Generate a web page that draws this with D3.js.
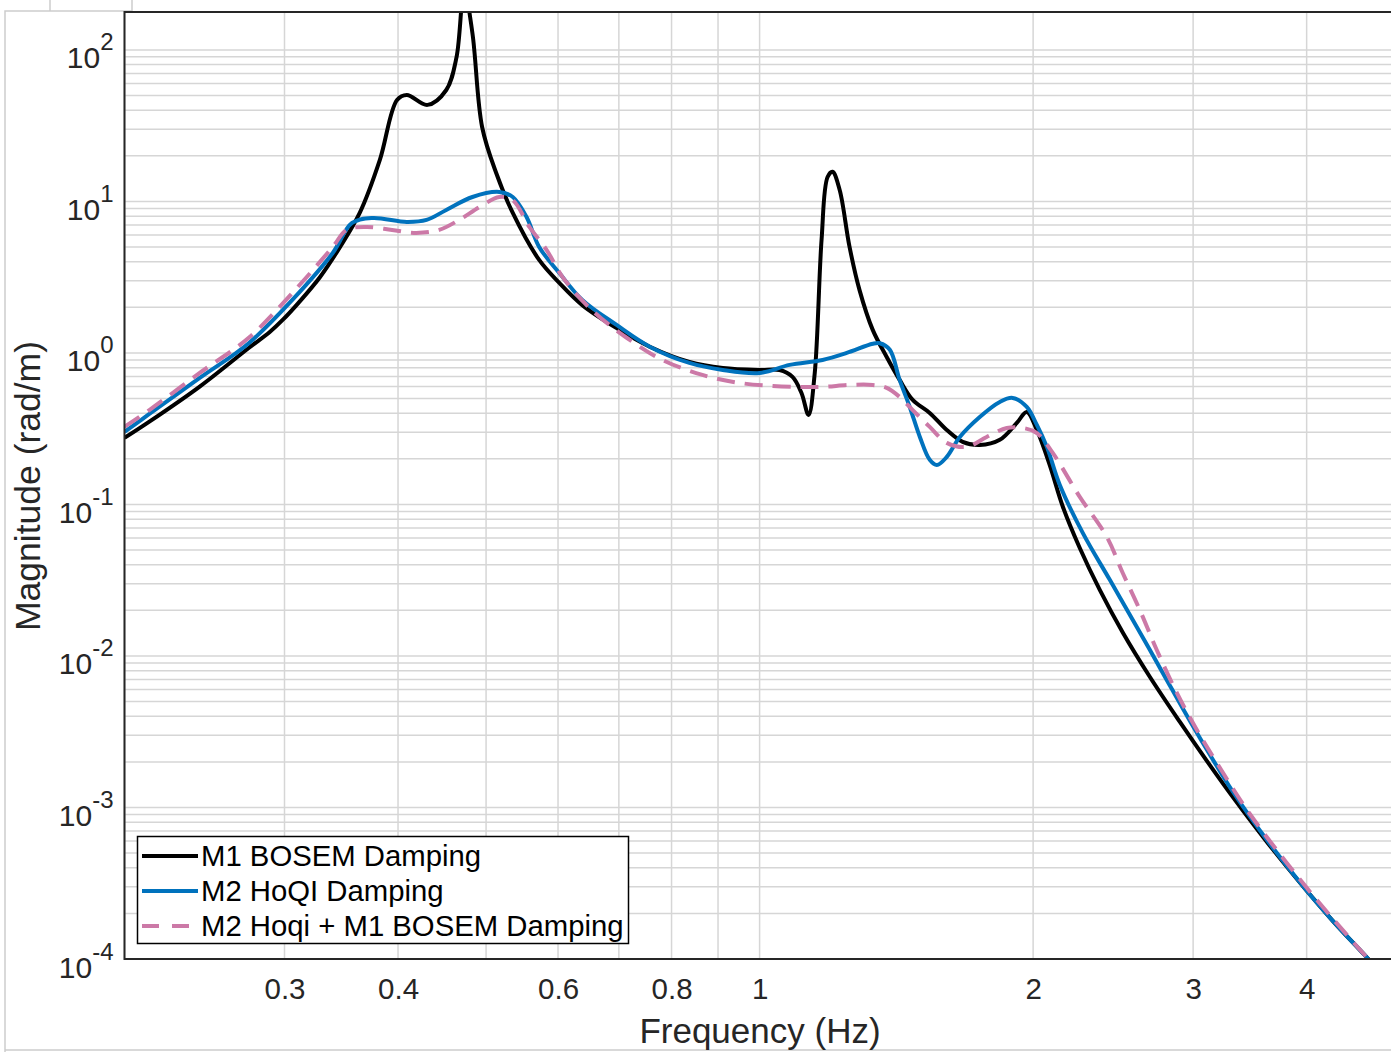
<!DOCTYPE html>
<html>
<head>
<meta charset="utf-8">
<script src="https://cdn.jsdelivr.net/npm/d3@7/dist/d3.min.js"></script>
<style>
  body { margin: 0; background: #fff; }
  text { font-family: "Liberation Sans", Arial, Helvetica, sans-serif; }
</style>
</head>
<body>
<svg id="bode"></svg>
<script>

// frequency (Hz) / magnitude (rad/m)
var m1Freq = [0.2, 0.213, 0.242, 0.274, 0.289, 0.299, 0.311, 0.328, 0.345, 0.363, 0.382, 0.399, 0.409, 0.431, 0.452, 0.464, 0.473, 0.483, 0.495, 0.513, 0.535, 0.572, 0.602, 0.638, 0.696, 0.757, 0.837, 0.911, 1.0, 1.052, 1.087, 1.112, 1.132, 1.15, 1.17, 1.188, 1.203, 1.225, 1.256, 1.288, 1.332, 1.38, 1.426, 1.474, 1.539, 1.607, 1.673, 1.747, 1.838, 1.919, 1.968, 2.019, 2.086, 2.157, 2.251, 2.368, 2.51, 2.689, 2.901, 3.106, 3.318, 3.617, 4.003, 4.276, 4.661, 4.817];
var m1Mag = [0.275, 0.352, 0.6, 1.079, 1.376, 1.664, 2.15, 3.15, 4.96, 8.4, 18.8, 46.8, 50.5, 43.4, 54.4, 90, 250, 129, 31, 15.4, 8.4, 4.11, 2.9, 2.07, 1.46, 1.1, 0.873, 0.796, 0.772, 0.772, 0.695, 0.544, 0.39, 0.738, 5.57, 14.5, 15.7, 11.9, 5.01, 2.61, 1.42, 0.941, 0.664, 0.49, 0.402, 0.31, 0.259, 0.247, 0.267, 0.345, 0.408, 0.31, 0.182, 0.0962, 0.0516, 0.0273, 0.0143, 0.00727, 0.00367, 0.00203, 0.00117, 0.000592, 0.000281, 0.000178, 0.000102, 0.000082];

var hoqiFreq = [0.2, 0.213, 0.242, 0.274, 0.306, 0.339, 0.356, 0.375, 0.409, 0.43, 0.452, 0.483, 0.517, 0.535, 0.554, 0.572, 0.602, 0.638, 0.696, 0.757, 0.837, 0.911, 1.0, 1.079, 1.173, 1.247, 1.332, 1.356, 1.391, 1.426, 1.463, 1.501, 1.539, 1.567, 1.607, 1.661, 1.747, 1.838, 1.899, 1.968, 2.019, 2.071, 2.14, 2.268, 2.429, 2.602, 2.778, 2.976, 3.146, 3.318, 3.617, 4.003, 4.276, 4.661, 4.817];
var hoqiMag = [0.301, 0.396, 0.684, 1.16, 2.24, 4.57, 7.21, 7.78, 7.32, 7.55, 8.79, 10.7, 11.55, 10.7, 7.9, 5.01, 3.37, 2.24, 1.53, 1.1, 0.859, 0.772, 0.738, 0.834, 0.899, 1.0, 1.15, 1.16, 1.05, 0.664, 0.44, 0.279, 0.197, 0.182, 0.206, 0.279, 0.378, 0.475, 0.505, 0.44, 0.335, 0.24, 0.1345, 0.0649, 0.0318, 0.0155, 0.00773, 0.00372, 0.00212, 0.00127, 0.00061, 0.000281, 0.000178, 0.000102, 0.000082];

var bothFreq = [0.2, 0.213, 0.242, 0.274, 0.306, 0.339, 0.351, 0.369, 0.394, 0.419, 0.444, 0.467, 0.492, 0.517, 0.535, 0.558, 0.583, 0.607, 0.65, 0.714, 0.782, 0.865, 0.951, 1.034, 1.107, 1.173, 1.256, 1.332, 1.38, 1.426, 1.474, 1.539, 1.607, 1.69, 1.778, 1.871, 1.948, 2.019, 2.102, 2.251, 2.411, 2.51, 2.621, 2.736, 2.879, 3.029, 3.186, 3.464, 4.003, 4.661, 4.817];
var bothMag = [0.325, 0.42, 0.738, 1.26, 2.49, 5.01, 6.49, 6.79, 6.49, 6.2, 6.49, 7.55, 9.2, 10.7, 10.2, 6.79, 4.78, 3.17, 1.98, 1.26, 0.899, 0.716, 0.634, 0.606, 0.597, 0.597, 0.615, 0.615, 0.588, 0.513, 0.42, 0.325, 0.255, 0.24, 0.279, 0.32, 0.32, 0.296, 0.219, 0.1122, 0.061, 0.0353, 0.0201, 0.01096, 0.0057, 0.00325, 0.00197, 0.000906, 0.000294, 0.000102, 0.000082];

var xTickValues = [0.3, 0.4, 0.6, 0.8, 1, 2, 3, 4];
var xTickLabels = ["0.3", "0.4", "0.6", "0.8", "1", "2", "3", "4"];
var yTickExps = [-4, -3, -2, -1, 0, 1, 2];
var legendLabels = ["M1 BOSEM Damping", "M2 HoQI Damping", "M2 Hoqi + M1 BOSEM Damping"];
var seriesColors = ["#000000", "#0072bd", "#cc79a7"];

// set the dimensions and margins of the graph
var margin = {top: 12, right: 0, bottom: 93, left: 124.5},
    width = 1270.2,
    height = 947;

var svg0 = d3.select("#bode")
    .attr("width", 1391)
    .attr("height", 1052);

// light frame of the screenshot
svg0.append("path")
    .attr("d", "M5,1052V11H132V0M50,0V11M5,1050H1391")
    .attr("fill", "none")
    .attr("stroke", "#cdcdcd")
    .attr("stroke-width", 1.5);

var svg = svg0.append("g")
    .attr("transform", "translate(" + margin.left + "," + margin.top + ")");

var x = d3.scaleLog()
    .domain([0.2, 5])
    .range([0, width]);

var y = d3.scaleLog()
    .domain([1e-4, 178])
    .range([height, 0]);

svg.append("rect")
    .attr("width", width)
    .attr("height", height)
    .attr("fill", "#fff");

// grid
svg.append("g")
    .selectAll("line")
    .data(x.ticks())
    .enter()
    .append("line")
        .attr("x1", function (d) { return x(d); })
        .attr("x2", function (d) { return x(d); })
        .attr("y1", 0)
        .attr("y2", height)
        .attr("stroke", "#d6d6d6")
        .attr("stroke-width", 1.5);

svg.append("g")
    .selectAll("line")
    .data(y.ticks())
    .enter()
    .append("line")
        .attr("y1", function (d) { return y(d); })
        .attr("y2", function (d) { return y(d); })
        .attr("x1", 0)
        .attr("x2", width)
        .attr("stroke", "#d6d6d6")
        .attr("stroke-width", 1.5);

// Add X axis
var xAxis = svg.append("g")
    .attr("transform", "translate(0," + height + ")")
    .call(d3.axisBottom(x)
        .tickValues(xTickValues)
        .tickFormat(function (d, i) { return xTickLabels[i]; })
        .tickSize(0)
        .tickPadding(0));
xAxis.select(".domain").remove();
xAxis.selectAll("text")
    .attr("y", 40)
    .attr("dy", null)
    .attr("font-size", 29.5)
    .attr("fill", "#262626");

// Add Y axis (10^n labels)
var yAxis = svg.append("g")
    .call(d3.axisLeft(y)
        .tickValues(yTickExps.map(function (e) { return Math.pow(10, e); }))
        .tickFormat("")
        .tickSize(0));
yAxis.select(".domain").remove();
yAxis.selectAll(".tick text").each(function (d, i) {
    var t = d3.select(this)
        .attr("x", -11)
        .attr("y", 18)
        .attr("dy", null)
        .attr("text-anchor", "end")
        .attr("fill", "#262626")
        .text(null);
    t.append("tspan").attr("font-size", 30).text("10");
    t.append("tspan").attr("font-size", 24).attr("dy", -18).text(yTickExps[i]);
});

// axis labels
svg0.append("text")
    .attr("x", 760)
    .attr("y", 1043)
    .attr("text-anchor", "middle")
    .attr("font-size", 35)
    .attr("fill", "#262626")
    .text("Frequency (Hz)");

svg0.append("text")
    .attr("transform", "translate(40,486) rotate(-90)")
    .attr("text-anchor", "middle")
    .attr("font-size", 35.5)
    .attr("fill", "#262626")
    .text("Magnitude (rad/m)");

// curves
svg.append("clipPath")
    .attr("id", "plotClip")
    .append("rect")
    .attr("width", width)
    .attr("height", height);

var line = d3.line()
    .x(function (d) { return x(d[0]); })
    .y(function (d) { return y(d[1]); })
    .curve(d3.curveCatmullRom.alpha(0.5));

var series = [
    {data: d3.zip(m1Freq, m1Mag), dash: null},
    {data: d3.zip(hoqiFreq, hoqiMag), dash: null},
    {data: d3.zip(bothFreq, bothMag), dash: "18,10"}
];

var curves = svg.append("g").attr("clip-path", "url(#plotClip)");
series.forEach(function (s, i) {
    curves.append("path")
        .datum(s.data)
        .attr("d", line)
        .attr("fill", "none")
        .attr("stroke", seriesColors[i])
        .attr("stroke-width", 4)
        .attr("stroke-linejoin", "round")
        .attr("stroke-dasharray", s.dash);
});

// box
svg.append("path")
    .attr("d", "M" + width + ",0H0V" + height + "H" + width)
    .attr("fill", "none")
    .attr("stroke", "#262626")
    .attr("stroke-width", 2);

// legend
var legend = svg0.append("g");
legend.append("rect")
    .attr("x", 137.5)
    .attr("y", 836.5)
    .attr("width", 491)
    .attr("height", 107)
    .attr("fill", "#fff")
    .attr("stroke", "#000")
    .attr("stroke-width", 1.5);

legend.selectAll("line")
    .data(legendLabels)
    .enter()
    .append("line")
        .attr("x1", 142)
        .attr("x2", 198)
        .attr("y1", function (d, i) { return 856 + i * 35; })
        .attr("y2", function (d, i) { return 856 + i * 35; })
        .attr("stroke", function (d, i) { return seriesColors[i]; })
        .attr("stroke-width", 4)
        .attr("stroke-dasharray", function (d, i) { return i == 2 ? "17,13" : null; });

legend.selectAll("text")
    .data(legendLabels)
    .enter()
    .append("text")
        .attr("x", 201)
        .attr("y", function (d, i) { return 866 + i * 35; })
        .attr("font-size", 29.3)
        .attr("fill", "#000")
        .text(function (d) { return d; });

</script>
</body>
</html>
